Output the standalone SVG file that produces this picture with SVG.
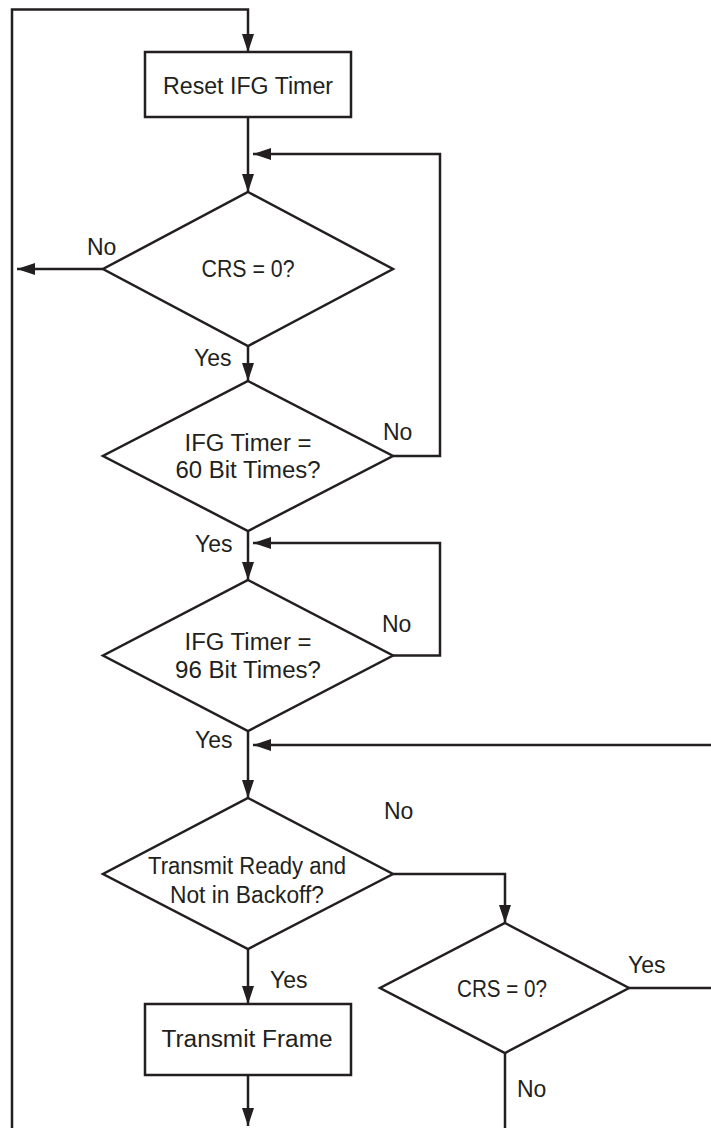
<svg xmlns="http://www.w3.org/2000/svg" width="711" height="1128" viewBox="0 0 711 1128">
<style>
.shape{fill:#fff;stroke:#231f20;stroke-width:2.5}
.conn{fill:none;stroke:#231f20;stroke-width:2.5;stroke-linejoin:miter}
text{font-family:"Liberation Sans",Arial,sans-serif;font-size:23px;fill:#231f20}
.c{text-anchor:middle}
</style>
<defs>
<marker id="arr" markerUnits="userSpaceOnUse" markerWidth="20" markerHeight="14" refX="18" refY="6" orient="auto">
<path d="M0,0 L18,6 L0,12 z" fill="#231f20"/>
</marker>
</defs>
<rect width="711" height="1128" fill="#fff"/>
<g id="connectors">
<path class="conn" d="M12,1128 V9.5 H248 V52" marker-end="url(#arr)"/>
<path class="conn" d="M248,117 V192" marker-end="url(#arr)"/>
<path class="conn" d="M393,456 H440 V154 H253" marker-end="url(#arr)"/>
<path class="conn" d="M103,269 H17" marker-end="url(#arr)"/>
<path class="conn" d="M248,346 V381" marker-end="url(#arr)"/>
<path class="conn" d="M248,531 V580" marker-end="url(#arr)"/>
<path class="conn" d="M393,655.5 H440 V543 H253" marker-end="url(#arr)"/>
<path class="conn" d="M248,731 V798" marker-end="url(#arr)"/>
<path class="conn" d="M711,745 H253" marker-end="url(#arr)"/>
<path class="conn" d="M393,874 H505 V923" marker-end="url(#arr)"/>
<path class="conn" d="M248,949 V1004" marker-end="url(#arr)"/>
<path class="conn" d="M248,1075 V1126" marker-end="url(#arr)"/>
<path class="conn" d="M629,988 H711"/>
<path class="conn" d="M505,1053 V1128"/>
<text x="87" y="255">No</text>
<text x="194" y="366">Yes</text>
<text x="383" y="440">No</text>
<text x="195" y="552">Yes</text>
<text x="382" y="632">No</text>
<text x="195" y="748">Yes</text>
<text x="384" y="819">No</text>
<text x="270" y="988">Yes</text>
<text x="628" y="973">Yes</text>
<text x="517" y="1097">No</text>
</g>
<g id="reset">
<rect class="shape" x="145" y="52" width="206" height="65"/>
<text class="c" x="248" y="94" textLength="170" lengthAdjust="spacingAndGlyphs">Reset IFG Timer</text>
</g>
<g id="crs1">
<polygon class="shape" points="248,192 393,269 248,346 103,269"/>
<text class="c" x="248" y="277" textLength="93" lengthAdjust="spacingAndGlyphs">CRS = 0?</text>
</g>
<g id="ifg60">
<polygon class="shape" points="248,381 393,456 248,531 103,456"/>
<text class="c" x="248" y="451" textLength="127" lengthAdjust="spacingAndGlyphs">IFG Timer =</text>
<text class="c" x="248" y="478" textLength="145" lengthAdjust="spacingAndGlyphs">60 Bit Times?</text>
</g>
<g id="ifg96">
<polygon class="shape" points="248,580 393,655.5 248,731 103,655.5"/>
<text class="c" x="248" y="650" textLength="127" lengthAdjust="spacingAndGlyphs">IFG Timer =</text>
<text class="c" x="248" y="678" textLength="146" lengthAdjust="spacingAndGlyphs">96 Bit Times?</text>
</g>
<g id="ready">
<polygon class="shape" points="248,798 393,874 248,949 103,874"/>
<text class="c" x="247" y="874" textLength="198" lengthAdjust="spacingAndGlyphs">Transmit Ready and</text>
<text class="c" x="247" y="903" textLength="154" lengthAdjust="spacingAndGlyphs">Not in Backoff?</text>
</g>
<g id="crs2">
<polygon class="shape" points="505,923 629,988 505,1053 380,988"/>
<text class="c" x="502" y="997" textLength="90" lengthAdjust="spacingAndGlyphs">CRS = 0?</text>
</g>
<g id="transmit">
<rect class="shape" x="145" y="1004" width="206" height="71"/>
<text class="c" x="247" y="1047" textLength="171" lengthAdjust="spacingAndGlyphs">Transmit Frame</text>
</g>
</svg>
